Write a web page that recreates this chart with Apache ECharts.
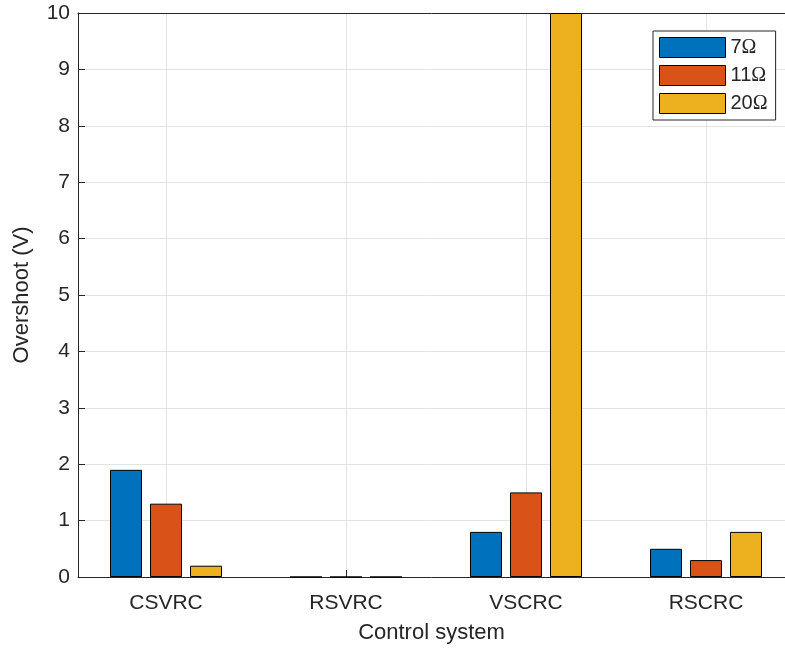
<!DOCTYPE html>
<html>
<head>
<meta charset="utf-8">
<script src="https://cdn.jsdelivr.net/npm/echarts@6/dist/echarts.min.js"></script>
<style>
  html, body { margin: 0; padding: 0; background: #fff; }
  #chart { width: 785px; height: 652px; }
</style>
</head>
<body>
<div id="chart"></div>
<script>
// Control systems, placed at x = 1..4 on a numeric axis
const categories = ['CSVRC', 'RSVRC', 'VSCRC', 'RSCRC'];
const categoryPositions = [1, 2, 3, 4];

// Overshoot (V) for each load resistance
const seriesNames = ['7', '11', '20'];
const overshoot7 = [1.9, 0, 0.8, 0.5];
const overshoot11 = [1.3, 0, 1.5, 0.3];
const overshoot20 = [0.2, 0, 10, 0.8];

const yTicks = [0, 1, 2, 3, 4, 5, 6, 7, 8, 9, 10];

const colors = ['#0072BD', '#D95319', '#EDB120'];
const axisColor = '#262626';
const gridColor = '#e3e3e3';
const font = 'Liberation Sans, Arial, Helvetica, sans-serif';

// x range: one category step is 180 px, first category 88 px from the left edge
const xMin = 0.5111;
const xMax = 4.4389;

function pairs(values) {
  return values.map((v, i) => [categoryPositions[i], v]);
}

const chart = echarts.init(document.getElementById('chart'), null, { renderer: 'canvas' });

const seriesValues = [overshoot7, overshoot11, overshoot20];

chart.setOption({
  animation: false,
  color: colors,
  grid: { left: 78, top: 13, right: 0, bottom: 75 },
  legend: {
    left: 653, top: 31, orient: 'vertical',
    icon: 'rect',
    itemWidth: 66, itemHeight: 20, itemGap: 7,
    padding: [6, 8, 6, 6],
    borderColor: axisColor, borderWidth: 1, backgroundColor: '#fff',
    data: seriesNames,
    formatter: name => '{n|' + name + '}{o|Ω}',
    textStyle: {
      color: axisColor,
      rich: {
        n: { fontFamily: font, fontSize: 20, color: axisColor },
        o: { fontFamily: 'Liberation Serif, Times New Roman, serif', fontSize: 20, color: axisColor }
      }
    },
    itemStyle: { borderColor: '#000', borderWidth: 1 }
  },
  xAxis: [{
    type: 'value',
    min: xMin, max: xMax,
    name: 'Control system', nameLocation: 'middle', nameGap: 45,
    nameTextStyle: { fontFamily: font, fontSize: 22, color: axisColor },
    axisLine: { show: true, onZero: false, lineStyle: { color: axisColor, width: 1 } },
    axisTick: { show: true, inside: true, length: 7, customValues: categoryPositions, lineStyle: { color: axisColor } },
    axisLabel: {
      customValues: categoryPositions, margin: 16,
      fontFamily: font, fontSize: 21, color: axisColor,
      formatter: v => categories[Math.round(v) - 1]
    },
    splitLine: { show: true, lineStyle: { color: gridColor, width: 1 } }
  }, {
    // top frame line
    type: 'value', position: 'top',
    min: xMin, max: xMax,
    axisLine: { show: true, onZero: false, lineStyle: { color: axisColor, width: 1 } },
    axisTick: { show: false }, axisLabel: { show: false }, splitLine: { show: false }
  }],
  yAxis: {
    type: 'value',
    min: yTicks[0], max: yTicks[yTicks.length - 1], interval: 1,
    name: 'Overshoot (V)', nameLocation: 'middle', nameGap: 45,
    nameTextStyle: { fontFamily: font, fontSize: 22, color: axisColor },
    axisLine: { show: true, onZero: false, lineStyle: { color: axisColor, width: 1 } },
    axisTick: { show: true, inside: true, length: 7, lineStyle: { color: axisColor } },
    axisLabel: { margin: 8, fontFamily: font, fontSize: 21, color: axisColor },
    splitLine: { show: true, lineStyle: { color: gridColor, width: 1 } }
  },
  series: seriesNames.map((name, k) => ({
    name: name,
    type: 'bar',
    xAxisIndex: 0,
    barWidth: 32,
    barGap: '25%',
    clip: true,
    itemStyle: { color: colors[k], borderColor: '#000', borderWidth: 1 },
    data: pairs(seriesValues[k])
  }))
});
</script>
</body>
</html>
